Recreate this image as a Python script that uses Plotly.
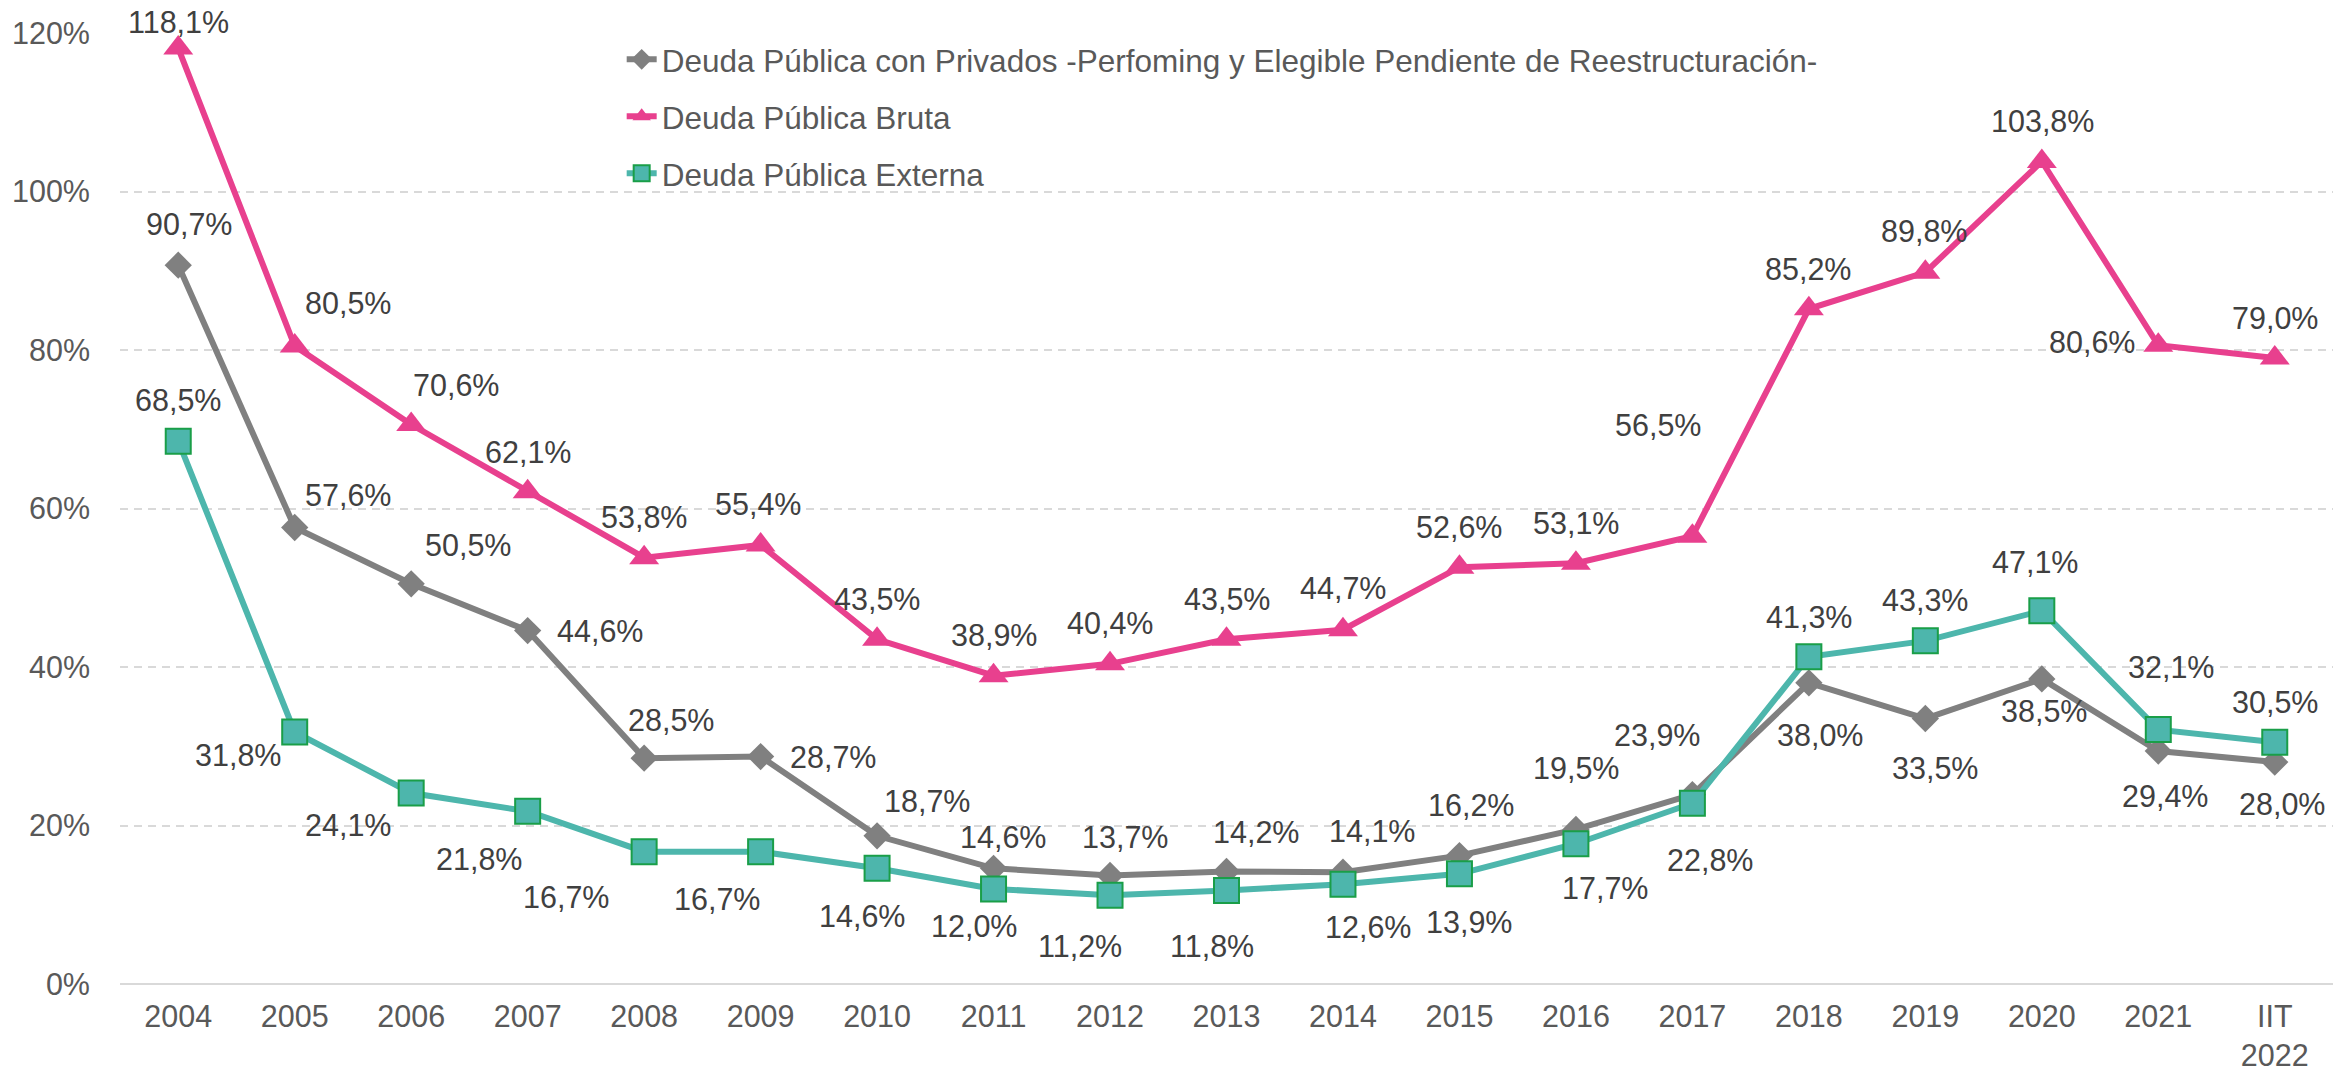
import plotly.graph_objects as go

# ---- data ----
categories = ["2004", "2005", "2006", "2007", "2008", "2009", "2010", "2011", "2012",
              "2013", "2014", "2015", "2016", "2017", "2018", "2019", "2020", "2021",
              "IIT<br>2022"]

privados = [90.7, 57.6, 50.5, 44.6, 28.5, 28.7, 18.7, 14.6, 13.7, 14.2, 14.1, 16.2,
            19.5, 23.9, 38.0, 33.5, 38.5, 29.4, 28.0]
bruta = [118.1, 80.5, 70.6, 62.1, 53.8, 55.4, 43.5, 38.9, 40.4, 43.5, 44.7, 52.6,
         53.1, 56.5, 85.2, 89.8, 103.8, 80.6, 79.0]
externa = [68.5, 31.8, 24.1, 21.8, 16.7, 16.7, 14.6, 12.0, 11.2, 11.8, 12.6, 13.9,
           17.7, 22.8, 41.3, 43.3, 47.1, 32.1, 30.5]

names = ["Deuda Pública con Privados -Perfoming y Elegible Pendiente de Reestructuración-",
         "Deuda Pública Bruta",
         "Deuda Pública Externa"]

y_ticks = [0, 20, 40, 60, 80, 100, 120]

# ---- label placement (pixel offsets dx, dy; dy positive = downwards) ----
privados_off = [(11, -41), (53, -33), (57, -39), (72, 0), (27, -38), (72, 0), (50, -35),
                (9, -31), (15, -38), (29, -39), (29, -41), (12, -51), (0, -61), (-35, -60),
                (11, 52), (10, 49), (2, 32), (7, 45), (7, 42)]
bruta_off = [(0, -26), (53, -43), (45, -40), (0, -40), (0, -41), (-3, -41), (0, -40),
             (0, -41), (0, -41), (0, -40), (0, -42), (0, -40), (0, -40), (-34, -111),
             (-1, -40), (-1, -41), (1, -40), (-66, -3), (0, -40)]
externa_off = [(0, -41), (-57, 23), (-63, 32), (-49, 48), (-78, 45), (-44, 47), (-15, 48),
               (-20, 37), (-30, 51), (-15, 56), (25, 43), (10, 48), (29, 44), (18, 57),
               (0, -40), (0, -41), (-7, -49), (13, -63), (0, -40)]

# ---- styles ----
FONT = "Liberation Sans, Arial, sans-serif"
FS = 30.5
GRAY = "#808080"
PINK = "#E8408E"
TEAL = "#4DB6AC"
TEAL_EDGE = "#1A9E48"
LABEL_COLOR = "#404040"
AXIS_COLOR = "#595959"

fig = go.Figure()

fig.add_trace(go.Scatter(
    x=categories, y=privados, name=names[0], mode="lines+markers",
    line=dict(color=GRAY, width=6),
    marker=dict(symbol="diamond", size=21, color=GRAY),
    cliponaxis=False, legendgroup="a"))
fig.add_trace(go.Scatter(
    x=categories, y=bruta, name=names[1], mode="lines+markers",
    line=dict(color=PINK, width=6),
    marker=dict(symbol="triangle-up", size=26, color=PINK),
    cliponaxis=False, legendgroup="b"))
fig.add_trace(go.Scatter(
    x=categories, y=externa, name=names[2], mode="lines+markers",
    line=dict(color=TEAL, width=6),
    marker=dict(symbol="square", size=25, color=TEAL, line=dict(color=TEAL_EDGE, width=2)),
    cliponaxis=False, legendgroup="c"))


def fmt(v):
    return f"{v:.1f}".replace(".", ",") + "%"


annotations = []
for series, offs in ((privados, privados_off), (bruta, bruta_off), (externa, externa_off)):
    for i, (v, (dx, dy)) in enumerate(zip(series, offs)):
        annotations.append(dict(
            x=i, y=v, xref="x", yref="y", text=fmt(v), showarrow=False,
            xshift=dx, yshift=-dy, xanchor="center", yanchor="middle",
            font=dict(family=FONT, size=FS, color=LABEL_COLOR)))

fig.update_layout(
    width=2333, height=1072,
    margin=dict(l=120, r=0, t=33, b=88),
    paper_bgcolor="white", plot_bgcolor="white",
    font=dict(family=FONT, size=FS, color=AXIS_COLOR),
    showlegend=True,
    legend=dict(x=0.2267, y=1.0007, xanchor="left", yanchor="top",
                bgcolor="rgba(0,0,0,0)", font=dict(family=FONT, size=31.5, color=AXIS_COLOR),
                traceorder="grouped", tracegroupgap=13, itemwidth=30),
    annotations=annotations,
)

fig.update_xaxes(
    type="category", range=[-0.5, 18.5], showgrid=False, showline=False,
    ticks="", tickfont=dict(family=FONT, size=FS, color=AXIS_COLOR),
    ticklabelstandoff=11)
fig.update_yaxes(
    range=[0, 120], tickvals=y_ticks, ticktext=[f"{t}%" for t in y_ticks],
    showgrid=True, gridcolor="#D9D9D9", gridwidth=2, griddash="8px,6px",
    zeroline=True, zerolinecolor="#D9D9D9", zerolinewidth=2,
    showline=False, ticks="", tickfont=dict(family=FONT, size=FS, color=AXIS_COLOR),
    ticklabelstandoff=29)

fig.write_html(
    "out.html",
    config={"displayModeBar": False},
    post_script="document.body.style.margin='0';document.body.style.overflow='hidden';")
